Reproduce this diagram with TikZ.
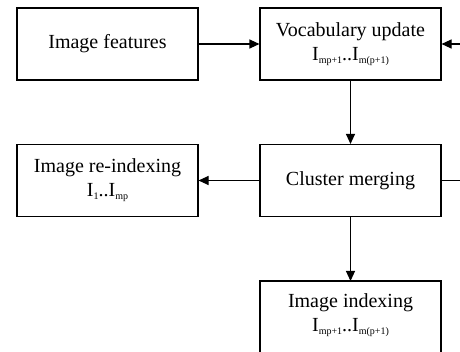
\documentclass[tikz,border=0pt]{standalone}
\usepackage{fontspec}
\setmainfont{Liberation Serif}
\usetikzlibrary{arrows.meta}

% small lowered index used in the box labels
\newcommand{\idx}[1]{\raisebox{-0.35ex}{\fontsize{10}{10}\selectfont #1}}

\begin{document}
\begin{tikzpicture}[x=1pt,y=-1pt,
  stage/.style={draw, line width=1.1pt, minimum width=181pt, minimum height=72pt,
    inner sep=0pt, align=center, font=\fontsize{20}{24}\selectfont},
  flow/.style={line width=1.1pt, -{Triangle[length=10pt,width=9pt]}}]
  \useasboundingbox (0,0) rectangle (460,352);

  \node[stage] (feat)  at (107.5,44)  {Image features};
  \node[stage] (vocab) at (350.5,44)  {Vocabulary update\\I\idx{mp+1}..I\idx{m(p+1)}};
  \node[stage] (reidx) at (107.5,180.5) {Image re-indexing\\I\idx{1}..I\idx{mp}};
  \node[stage] (merge) at (350.5,180.5) {Cluster merging};

  % last box runs off the bottom, so only its sides and top are drawn
  \coordinate (idxNW) at (260,281);
  \coordinate (idxNE) at (441,281);
  \draw[line width=1.1pt] (260,360) -- (idxNW) -- (idxNE) -- (441,360);
  \node[font=\fontsize{20}{24}\selectfont, align=center, anchor=north] (index) at (350.5,290)
    {Image indexing\\I\idx{mp+1}..I\idx{m(p+1)}};

  % loop back from the right edge
  \coordinate (fbIn)  at (465,44);
  \coordinate (fbOut) at (465,180.5);

  \draw[flow] (feat) -- (vocab);
  \draw[flow] (fbIn) -- (vocab);
  \draw[flow] (vocab) -- (merge);
  \draw[flow] (merge) -- (reidx);
  \draw[line width=1.1pt] (merge) -- (fbOut);
  \draw[flow] (merge) -- (merge.south |- idxNW);
\end{tikzpicture}
\end{document}
